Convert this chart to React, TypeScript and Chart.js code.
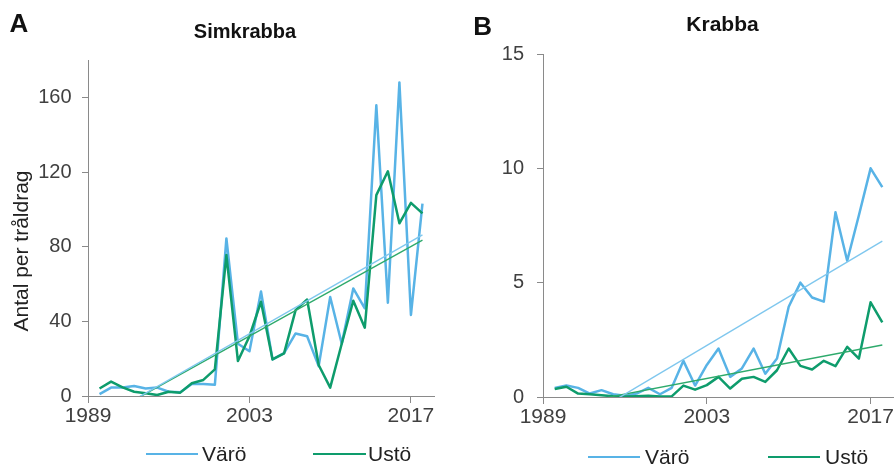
import React, { useEffect, useRef } from "react";
import { Chart, registerables } from "chart.js";

Chart.register(...registerables);

const FONT = 'Arial, "Liberation Sans", sans-serif';

// ---- data ----
const years = [
  1990, 1991, 1992, 1993, 1994, 1995, 1996, 1997, 1998, 1999,
  2000, 2001, 2002, 2003, 2004, 2005, 2006, 2007, 2008, 2009,
  2010, 2011, 2012, 2013, 2014, 2015, 2016, 2017, 2018,
];
const seriesNames = ["Värö", "Ustö"];
const panelTitles = ["Simkrabba", "Krabba"];
const panelLetters = ["A", "B"];
const yAxisTitle = "Antal per tråldrag";

const simVaro = [
  1, 4.5, 4.5, 5.4, 4, 4.5, 2.3, 2, 6.4, 6.4,
  6, 84.4, 28, 24, 56, 19.6, 23, 33.5, 32, 16,
  53, 28, 57.6, 47, 155.7, 50, 168, 43.4, 103,
];
const simUsto = [
  4, 7.7, 4.6, 2.3, 1.5, 0.5, 2.3, 1.8, 6.8, 8.6,
  14.3, 75.5, 18.7, 32, 50.5, 19.6, 22.8, 46, 51.7, 16.6,
  4.5, 28, 51, 36.6, 107.6, 120.4, 92.5, 103.5, 97.8,
];
const krabVaro = [
  0.4, 0.5, 0.4, 0.15, 0.3, 0.12, 0.05, 0.15, 0.4, 0.12,
  0.4, 1.58, 0.5, 1.4, 2.12, 0.88, 1.25, 2.12, 1.02, 1.68,
  3.95, 5.0, 4.35, 4.17, 8.08, 5.96, 7.95, 10.0, 9.18,
];
const krabUsto = [
  0.35, 0.45, 0.15, 0.12, 0.08, 0.03, 0.02, 0.03, 0.05, 0.02,
  0.03, 0.5, 0.32, 0.52, 0.88, 0.37, 0.8, 0.88, 0.66, 1.17,
  2.12, 1.36, 1.2, 1.58, 1.35, 2.19, 1.68, 4.14, 3.26,
];

const xTickValues = [1989, 2003, 2017];
const simYTicks = [0, 40, 80, 120, 160];
const krabYTicks = [0, 5, 10, 15];

// ---- styles ----
const BLUE = "#58B3E6";
const GREEN = "#0E9C6C";
const BLUE_TREND = "#7FC7EE";
const GREEN_TREND = "#2EAA6C";
const AXIS = "#8a8a8a";
const TICK_TXT = "#404040";

function linearFit(xs: number[], ys: number[]) {
  const n = xs.length;
  let sx = 0, sy = 0;
  for (let i = 0; i < n; i++) { sx += xs[i]; sy += ys[i]; }
  const mx = sx / n, my = sy / n;
  let num = 0, den = 0;
  for (let i = 0; i < n; i++) {
    num += (xs[i] - mx) * (ys[i] - my);
    den += (xs[i] - mx) * (xs[i] - mx);
  }
  const b = num / den;
  const a = my - b * mx;
  return (x: number) => a + b * x;
}

function pts(ys: number[]) {
  return years.map((x, i) => ({ x, y: ys[i] }));
}

function trendPts(ys: number[]) {
  const f = linearFit(years, ys);
  const x0 = years[0], x1 = years[years.length - 1];
  return [{ x: x0, y: f(x0) }, { x: x1, y: f(x1) }];
}

const decorPlugin = {
  id: "decor",
  afterDraw(chart: any, _args: any, opts: any) {
    const ctx = chart.ctx as CanvasRenderingContext2D;
    ctx.save();
    ctx.textBaseline = "alphabetic";
    // panel letter
    ctx.fillStyle = "#111";
    ctx.textAlign = "left";
    ctx.font = `bold ${opts.letterSize}px ${FONT}`;
    ctx.fillText(opts.letter, opts.letterX, opts.letterY);
    // title
    ctx.textAlign = "center";
    ctx.font = `bold ${opts.titleSize}px ${FONT}`;
    ctx.fillText(opts.title, opts.titleX, opts.titleY);
    // y title
    if (opts.yTitle) {
      ctx.save();
      ctx.translate(opts.yTitleX, opts.yTitleY);
      ctx.rotate(-Math.PI / 2);
      ctx.textAlign = "center";
      ctx.fillStyle = "#222";
      ctx.font = `${opts.yTitleSize}px ${FONT}`;
      ctx.fillText(opts.yTitle, 0, 0);
      ctx.restore();
    }
    // legend
    ctx.textAlign = "left";
    ctx.font = `${opts.legendSize}px ${FONT}`;
    for (const it of opts.legend) {
      const ds = chart.data.datasets[it.ds];
      ctx.strokeStyle = ds.borderColor;
      ctx.lineWidth = 2;
      ctx.beginPath();
      ctx.moveTo(it.x1, opts.legendLineY);
      ctx.lineTo(it.x2, opts.legendLineY);
      ctx.stroke();
      ctx.fillStyle = "#222";
      ctx.fillText(ds.label, it.tx, opts.legendTextY);
    }
    ctx.restore();
  },
};

type PanelCfg = {
  varo: number[];
  usto: number[];
  yMax: number;
  yTicks: number[];
  yAxisWidth: number;
  yTickPad: number;
  padding: { left: number; right: number; top: number; bottom: number };
  decor: any;
};

function buildConfig(p: PanelCfg): any {
  return {
    type: "line",
    data: {
      datasets: [
        {
          label: seriesNames[0],
          data: pts(p.varo),
          borderColor: BLUE,
          backgroundColor: BLUE,
          borderWidth: 2.5,
          pointRadius: 0,
          tension: 0,
          borderJoinStyle: "round",
          order: 4,
        },
        {
          label: seriesNames[1],
          data: pts(p.usto),
          borderColor: GREEN,
          backgroundColor: GREEN,
          borderWidth: 2.5,
          pointRadius: 0,
          tension: 0,
          borderJoinStyle: "round",
          order: 3,
        },
        {
          label: seriesNames[0] + " trend",
          data: trendPts(p.varo),
          borderColor: BLUE_TREND,
          borderWidth: 1.4,
          pointRadius: 0,
          clip: 0,
          order: 1,
        },
        {
          label: seriesNames[1] + " trend",
          data: trendPts(p.usto),
          borderColor: GREEN_TREND,
          borderWidth: 1.4,
          pointRadius: 0,
          clip: 0,
          order: 2,
        },
      ],
    },
    options: {
      responsive: false,
      animation: false,
      events: [],
      layout: { padding: p.padding },
      plugins: {
        legend: { display: false },
        title: { display: false },
        tooltip: { enabled: false },
        decor: p.decor,
      },
      scales: {
        x: {
          type: "linear",
          min: 1989,
          max: 2019,
          afterBuildTicks: (s: any) => {
            s.ticks = xTickValues.map((v) => ({ value: v }));
          },
          afterFit: (s: any) => {
            s.height = 40;
          },
          ticks: {
            callback: (v: any) => String(v),
            font: { family: FONT, size: 21 },
            color: TICK_TXT,
            padding: 1,
            maxRotation: 0,
            autoSkip: false,
          },
          grid: {
            drawOnChartArea: false,
            drawTicks: true,
            tickLength: 7,
            color: AXIS,
            lineWidth: 1,
          },
          border: { display: true, color: AXIS, width: 1 },
        },
        y: {
          min: 0,
          max: p.yMax,
          afterBuildTicks: (s: any) => {
            s.ticks = p.yTicks.map((v) => ({ value: v }));
          },
          afterFit: (s: any) => {
            s.width = p.yAxisWidth;
          },
          ticks: {
            callback: (v: any) => String(v),
            font: { family: FONT, size: 20 },
            color: TICK_TXT,
            padding: p.yTickPad,
            autoSkip: false,
          },
          grid: {
            drawOnChartArea: false,
            drawTicks: true,
            tickLength: 6,
            color: AXIS,
            lineWidth: 1,
          },
          border: { display: true, color: AXIS, width: 1 },
        },
      },
    },
    plugins: [decorPlugin],
  };
}

function Panel(props: { cfg: PanelCfg; width: number; left: number }) {
  const ref = useRef<HTMLCanvasElement | null>(null);
  useEffect(() => {
    if (!ref.current) return;
    const chart = new Chart(ref.current, buildConfig(props.cfg));
    return () => chart.destroy();
  }, []);
  return (
    <canvas
      ref={ref}
      width={props.width}
      height={468}
      style={{
        position: "absolute",
        left: props.left,
        top: 0,
        width: props.width,
        height: 468,
        display: "block",
      }}
    />
  );
}

const panelA: PanelCfg = {
  varo: simVaro,
  usto: simUsto,
  yMax: 180,
  yTicks: simYTicks,
  yAxisWidth: 88,
  yTickPad: 10.5,
  padding: { left: 0, right: 13, top: 60, bottom: 32 },
  decor: {
    letter: panelLetters[0],
    letterSize: 26,
    letterX: 9.5,
    letterY: 31.7,
    title: panelTitles[0],
    titleSize: 20,
    titleX: 245,
    titleY: 38.3,
    yTitle: yAxisTitle,
    yTitleSize: 21,
    yTitleX: 28.3,
    yTitleY: 251,
    legendSize: 21,
    legendLineY: 454,
    legendTextY: 460.7,
    legend: [
      { ds: 0, x1: 146, x2: 198, tx: 202 },
      { ds: 1, x1: 313, x2: 366, tx: 368 },
    ],
  },
};

const panelB: PanelCfg = {
  varo: krabVaro,
  usto: krabUsto,
  yMax: 15,
  yTicks: krabYTicks,
  yAxisWidth: 96,
  yTickPad: 13,
  padding: { left: 0, right: 13, top: 54, bottom: 31 },
  decor: {
    letter: panelLetters[1],
    letterSize: 26,
    letterX: 26.3,
    letterY: 35,
    title: panelTitles[1],
    titleSize: 21,
    titleX: 275.5,
    titleY: 30.7,
    yTitle: "",
    yTitleSize: 21,
    yTitleX: 0,
    yTitleY: 0,
    legendSize: 21,
    legendLineY: 457,
    legendTextY: 464,
    legend: [
      { ds: 0, x1: 141, x2: 193, tx: 198 },
      { ds: 1, x1: 321, x2: 373, tx: 378 },
    ],
  },
};

export default function App() {
  return (
    <div
      style={{
        position: "absolute",
        left: 0,
        top: 0,
        width: 894,
        height: 468,
        overflow: "hidden",
        background: "#ffffff",
      }}
    >
      <Panel cfg={panelA} width={447} left={0} />
      <Panel cfg={panelB} width={460} left={447} />
    </div>
  );
}
